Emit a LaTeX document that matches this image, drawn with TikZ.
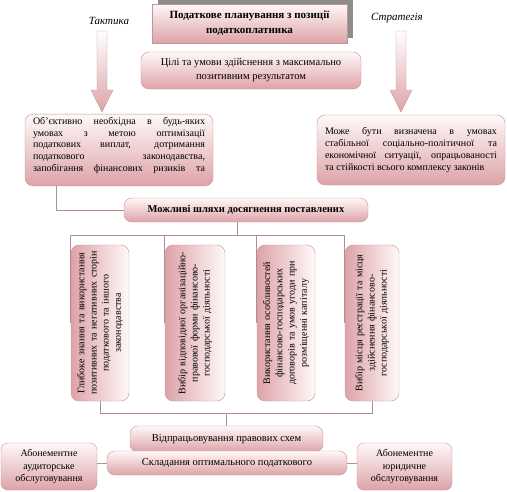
\documentclass[tikz,border=0pt]{standalone}
\usepackage{fontspec}
\setmainfont{Liberation Serif}
\usetikzlibrary{calc,shadows}
\definecolor{PlanTop}{HTML}{FFF8F8}
\definecolor{PlanBottom}{HTML}{DDA3A8}
\definecolor{PlanLine}{HTML}{C29498}
\definecolor{PlanLink}{HTML}{B08E91}
\definecolor{PlanShadow}{HTML}{8C8C8C}
\tikzset{
    card/.style={
        draw=PlanLine,
        top color=PlanTop,
        bottom color=PlanBottom,
        rounded corners=8pt,
        align=center,
        inner sep=3pt,
        font=\fontsize{10.5}{14}\selectfont
    },
    titlecard/.style={
        draw=PlanLine,
        top color=PlanTop,
        bottom color=PlanBottom,
        minimum width=195pt,
        minimum height=39pt,
        align=center,
        font=\bfseries\fontsize{11}{15}\selectfont,
        general shadow={shadow xshift=6pt, shadow yshift=5pt, fill=PlanShadow}
    },
    sidecard/.style={
        card,
        minimum width=188pt,
        minimum height=70pt,
        text width=172pt,
        align=justify,
        font=\fontsize{10}{11.7}\selectfont
    },
    upcard/.style={
        draw=PlanLine,
        left color=PlanBottom,
        right color=PlanTop,
        rounded corners=8pt,
        rotate=90,
        minimum width=156pt,
        text width=148pt,
        align=center,
        font=\fontsize{10}{12.2}\selectfont
    },
    sidelabel/.style={
        font=\itshape\fontsize{11}{13}\selectfont
    },
    blockarrow/.style={
        draw=PlanLine,
        top color=white,
        bottom color=PlanBottom
    },
    link/.style={
        draw=PlanLink,
        line width=0.8pt
    }
}

\begin{document}
\begin{tikzpicture}[x=1pt, y=-1pt]
        \useasboundingbox (0,0) rectangle (507,491);

        % Top: title, tactic and strategy
        \node[titlecard] (title) at (249.5,23.5) {Податкове планування з позиції\\податкоплатника};
        \node[sidelabel] (tactic) at (109,21) {Тактика};
        \node[sidelabel] (strategy) at (397,18) {Стратегія};
        \node[card, minimum width=220pt, minimum height=37pt] (goals) at (251,70.5)
            {Цілі та умови здійснення з максимально\\позитивним результатом};

        % Block arrows
        \coordinate (tacticarrow) at (102,31);
        \coordinate (strategyarrow) at (401,31);
        \path[blockarrow] ($(tacticarrow)+(-5,0)$) -- ++(10,0) -- ++(0,59) -- ++(6,0)
            -- ++(-11,22) -- ++(-11,-22) -- ++(6,0) -- cycle;
        \path[blockarrow] ($(strategyarrow)+(-5,0)$) -- ++(10,0) -- ++(0,59) -- ++(6,0)
            -- ++(-11,22) -- ++(-11,-22) -- ++(6,0) -- cycle;

        % Side boxes
        \node[sidecard] (tacticbox) at (119,150) {\hyphenpenalty=10000\tolerance=10000
            Об’єктивно необхідна в будь-яких\linebreak
            умовах з метою оптимізації\linebreak
            податкових виплат, дотримання\linebreak
            податкового законодавства,\linebreak
            запобігання фінансових ризиків та\linebreak};
        \node[sidecard] (strategybox) at (411,150) {\hyphenpenalty=10000\tolerance=10000
            Може бути визначена в умовах\linebreak
            стабільної соціально-політичної та\linebreak
            економічної ситуації, опрацьованості\linebreak
            та стійкості всього комплексу законів};

        % Ways
        \node[card, minimum width=244pt, minimum height=24pt, inner sep=1pt,
            font=\bfseries\fontsize{10.5}{12}\selectfont] (ways) at (246,210)
            {Можливі шляхи досягнення поставлених};
        \draw[link] ($(tacticbox.south west)!0.17!(tacticbox.south east)$) |- (ways.west);

        % Four vertical boxes
        \node[upcard, minimum height=58pt] (knowledge) at (100,323)
            {Глибоке знання та використання\\позитивних та негативних сторін\\податкового та іншого\\законодавства};
        \node[upcard, minimum height=60pt] (form) at (195,323)
            {Вибір відповідної організаційно-\\правової форми фінансово-\\господарської діяльності};
        \node[upcard, minimum height=58pt] (contracts) at (286,323)
            {Використання особливостей\\фінансово-господарських\\договорів та умов угоди при\\розміщенні капіталу};
        \node[upcard, minimum height=54pt] (place) at (372,323)
            {Вибір місця реєстрації та місця\\здійснення фінансово-\\господарської діяльності};

        \coordinate (bus) at ($(ways.south)+(-9,13)$);
        \draw[link] (ways.south -| bus) -- (bus);
        \draw[link] (knowledge.north) |- (bus) -| (place.north);
        \draw[link] (form.north) -- (form.north |- bus);
        \draw[link] (contracts.north) -- (contracts.north |- bus);

        % Bottom
        \node[card, minimum width=193pt, minimum height=26pt, inner sep=1pt] (schemes) at (226.5,439)
            {Відпрацьовування правових схем};
        \node[card, minimum width=240pt, minimum height=24pt, inner sep=1pt] (plan) at (227,463)
            {Складання оптимального податкового};
        \node[card, rounded corners=7pt, minimum width=96pt, minimum height=47pt,
            font=\fontsize{10}{12.5}\selectfont] (audit) at (49,466.5)
            {Абонементне\\аудиторське\\обслуговування};
        \node[card, rounded corners=7pt, minimum width=95pt, minimum height=47pt,
            font=\fontsize{10}{12.5}\selectfont] (legal) at (404.5,466.5)
            {Абонементне\\юридичне\\обслуговування};

        \coordinate (lowbus) at ($(knowledge.west)+(0,12)$);
        \draw[link] (knowledge.west) -- (lowbus) -| (place.west);
        \draw[link] (schemes.north) -- (schemes.north |- lowbus);
        \draw[link] (audit.east |- plan.west) -- (plan.west);
        \draw[link] (plan.east) -- (plan.east -| legal.west);
\end{tikzpicture}
\end{document}
